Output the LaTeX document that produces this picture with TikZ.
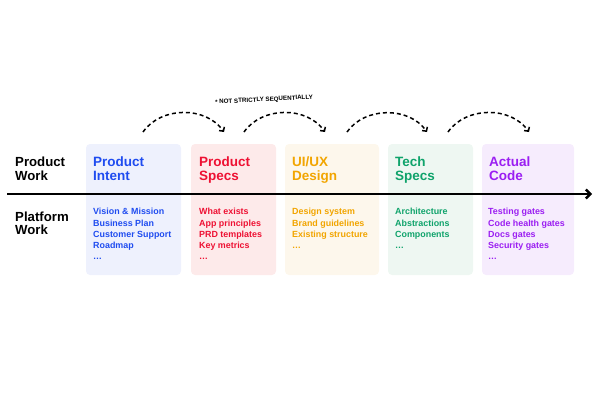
\documentclass[tikz,border=0pt]{standalone}
\usepackage{fontspec}
\setmainfont{Liberation Sans}
\usepackage{xcolor}
\definecolor{intentblue}{RGB}{31,76,240}
\definecolor{intentfill}{RGB}{238,241,253}
\definecolor{specsred}{RGB}{238,17,51}
\definecolor{specsfill}{RGB}{253,234,234}
\definecolor{designorange}{RGB}{242,165,0}
\definecolor{designfill}{RGB}{253,247,236}
\definecolor{techgreen}{RGB}{15,163,107}
\definecolor{techfill}{RGB}{238,247,242}
\definecolor{codepurple}{RGB}{155,30,242}
\definecolor{codefill}{RGB}{246,236,253}
\usetikzlibrary{arrows.meta,positioning}

\begin{document}
\begin{tikzpicture}[x=1pt, y=-1pt,
  stagebox/.style={rounded corners=4pt, minimum height=131pt, inner sep=0pt},
  stagetitle/.style={anchor=north west, inner sep=0pt, align=left, font=\fontsize{13.5}{13.6}\selectfont\bfseries},
  stageitems/.style={anchor=north west, inner sep=0pt, align=left, font=\fontsize{8.9}{11.1}\selectfont\bfseries},
  sidelabel/.style={anchor=north west, inner sep=0pt, align=left, font=\fontsize{13.2}{13.4}\selectfont\bfseries},
  dasharc/.style={line width=1.5pt, dash pattern=on 4pt off 3pt, -{Straight Barb[length=3pt,width=6.5pt]}},
  timeline/.style={line width=2.4pt, -{Straight Barb[length=4.5pt,width=9pt]}}
]
  \useasboundingbox (0,0) rectangle (600,400);

  % stage boxes
  \node[stagebox, fill=intentfill, minimum width=95pt] (intent) at (133.5,209.5) {};
  \node[stagebox, fill=specsfill, minimum width=85pt] (specs) at (233.5,209.5) {};
  \node[stagebox, fill=designfill, minimum width=94pt] (design) at (332,209.5) {};
  \node[stagebox, fill=techfill, minimum width=85pt] (tech) at (430.5,209.5) {};
  \node[stagebox, fill=codefill, minimum width=92pt] (code) at (528,209.5) {};

  % row labels
  \node[sidelabel] (productwork) at (15,157) {Product\\Work};
  \node[sidelabel] (platformwork) at (15,211.5) {Platform\\Work};

  % titles
  \node[stagetitle, text=intentblue] (intenttitle) at (93,157) {Product\\Intent};
  \node[stagetitle, text=specsred] (specstitle) at (199,157) {Product\\Specs};
  \node[stagetitle, text=designorange] (designtitle) at (292,157) {UI/UX\\Design};
  \node[stagetitle, text=techgreen] (techtitle) at (395,157) {Tech\\Specs};
  \node[stagetitle, text=codepurple] (codetitle) at (489,157) {Actual\\Code};

  % platform items
  \node[stageitems, text=intentblue] (intentitems) at (93,208.3)
    {Vision \& Mission\\Business Plan\\Customer Support\\Roadmap\\\ldots};
  \node[stageitems, text=specsred] (specsitems) at (199,208.3)
    {What exists\\App principles\\PRD templates\\Key metrics\\\ldots};
  \node[stageitems, text=designorange] (designitems) at (292,208.3)
    {Design system\\Brand guidelines\\Existing structure\\\ldots};
  \node[stageitems, text=techgreen] (techitems) at (395,208.3)
    {Architecture\\Abstractions\\Components\\\ldots};
  \node[stageitems, text=codepurple] (codeitems) at (488,208.3)
    {Testing gates\\Code health gates\\Docs gates\\Security gates\\\ldots};

  % timeline
  \coordinate (tlstart) at (7,194);
  \coordinate (tlend) at (592,194);
  \draw[timeline] (tlstart) -- (tlend);

  % hand-off arcs
  \coordinate (a1) at (143,132);  \coordinate (b1) at (224,132);
  \coordinate (a2) at (244,132);  \coordinate (b2) at (325,132);
  \coordinate (a3) at (347,132);  \coordinate (b3) at (427,132);
  \coordinate (a4) at (448,132);  \coordinate (b4) at (529,132);
  \draw[dasharc] (a1) to[bend left=55] (b1);
  \draw[dasharc] (a2) to[bend left=55] (b2);
  \draw[dasharc] (a3) to[bend left=55] (b3);
  \draw[dasharc] (a4) to[bend left=55] (b4);

  \node[font=\fontsize{6.2}{7}\selectfont\bfseries, rotate=3, inner sep=0pt] (note) at (264,100)
    {* NOT STRICTLY SEQUENTIALLY};
\end{tikzpicture}
\end{document}
